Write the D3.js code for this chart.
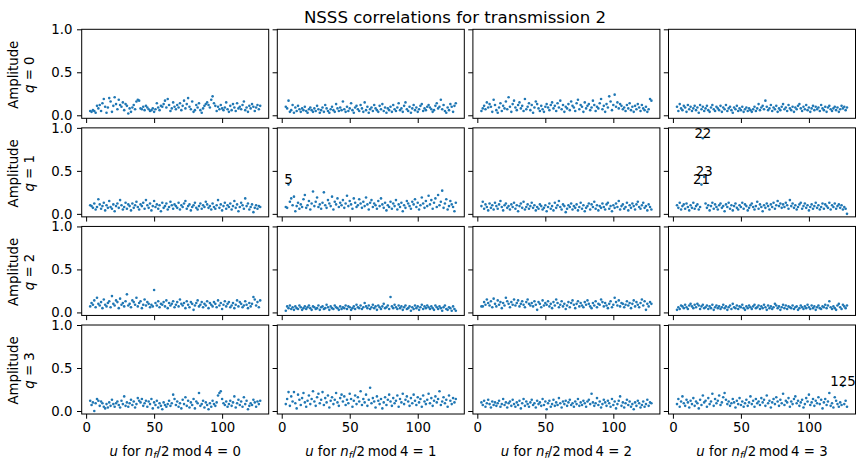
<!DOCTYPE html>
<html>
<head>
<meta charset="utf-8">
<script src="https://cdn.jsdelivr.net/npm/d3@7"></script>
<style>
  body { margin: 0; background: #fff; }
  svg text { font-family: "DejaVu Sans", sans-serif; fill: #000; }
</style>
</head>
<body>
<svg id="chart" width="866" height="471"></svg>
<script>
const title = 'NSSS correlations for transmission 2';
const qValues = [0, 1, 2, 3];
const modValues = [0, 1, 2, 3];
const uStart = 3;
const xTicks = [0, 50, 100];
const yTicks = [0, 0.5, 1];

// amplitude per u (u = 3 .. 128), one array per (q, n_f/2 mod 4)
const amp_q0_m0 = [
  0.05,0.04,0.06,0.05,0.03,0.11,0.08,0.12,0.05,0.14,0.19,0.10,0.03,0.09,0.20,0.16,0.04,0.11,0.21,0.13,0.07,
  0.18,0.12,0.10,0.15,0.06,0.13,0.11,0.02,0.08,0.04,0.09,0.12,0.07,0.16,0.18,0.17,0.08,0.07,0.10,0.06,0.11,
  0.09,0.07,0.05,0.06,0.08,0.04,0.07,0.14,0.09,0.06,0.11,0.10,0.13,0.17,0.09,0.19,0.12,0.05,0.08,0.15,0.10,
  0.07,0.12,0.09,0.14,0.06,0.11,0.17,0.08,0.13,0.20,0.10,0.07,0.16,0.04,0.06,0.12,0.09,0.14,0.06,0.03,0.08,
  0.11,0.13,0.15,0.12,0.09,0.18,0.22,0.14,0.11,0.05,0.10,0.07,0.12,0.08,0.06,0.09,0.15,0.07,0.04,0.11,0.06,
  0.13,0.09,0.05,0.14,0.08,0.10,0.07,0.12,0.16,0.06,0.09,0.04,0.11,0.08,0.13,0.10,0.05,0.09,0.12,0.07,0.11];
const amp_q0_m1 = [
  0.10,0.08,0.17,0.04,0.06,0.12,0.03,0.09,0.05,0.11,0.07,0.04,0.08,0.06,0.10,0.05,0.03,0.07,0.09,0.06,0.04,
  0.08,0.05,0.11,0.07,0.03,0.06,0.09,0.04,0.12,0.08,0.05,0.03,0.07,0.10,0.06,0.04,0.13,0.08,0.05,0.09,0.06,
  0.16,0.07,0.04,0.10,0.05,0.08,0.14,0.06,0.03,0.09,0.11,0.07,0.05,0.12,0.08,0.04,0.15,0.06,0.10,0.03,0.07,
  0.09,0.05,0.12,0.08,0.06,0.04,0.11,0.07,0.13,0.05,0.09,0.03,0.08,0.06,0.10,0.04,0.12,0.07,0.05,0.09,0.14,
  0.06,0.08,0.04,0.11,0.15,0.07,0.05,0.10,0.03,0.08,0.12,0.06,0.09,0.04,0.07,0.11,0.13,0.05,0.08,0.06,0.10,
  0.12,0.09,0.07,0.04,0.06,0.11,0.14,0.08,0.10,0.18,0.07,0.12,0.05,0.03,0.09,0.06,0.13,0.10,0.04,0.11,0.14];
const amp_q0_m2 = [
  0.05,0.08,0.11,0.07,0.15,0.09,0.13,0.10,0.04,0.18,0.12,0.06,0.03,0.09,0.14,0.05,0.11,0.08,0.16,0.07,0.21,
  0.10,0.04,0.13,0.17,0.09,0.06,0.12,0.15,0.08,0.11,0.05,0.19,0.07,0.10,0.14,0.06,0.12,0.03,0.09,0.16,0.13,
  0.08,0.05,0.11,0.07,0.04,0.10,0.13,0.09,0.06,0.12,0.15,0.08,0.11,0.05,0.14,0.09,0.17,0.07,0.12,0.04,0.10,
  0.08,0.13,0.06,0.16,0.11,0.09,0.05,0.14,0.18,0.07,0.12,0.10,0.04,0.15,0.08,0.11,0.13,0.06,0.09,0.17,0.12,
  0.05,0.10,0.08,0.14,0.19,0.07,0.11,0.04,0.13,0.09,0.22,0.16,0.06,0.12,0.24,0.10,0.15,0.08,0.13,0.11,0.07,
  0.09,0.05,0.12,0.08,0.14,0.06,0.10,0.04,0.11,0.07,0.13,0.09,0.05,0.12,0.08,0.06,0.10,0.04,0.07,0.19,0.17];
const amp_q0_m3 = [
  0.10,0.05,0.13,0.08,0.06,0.11,0.09,0.04,0.12,0.07,0.10,0.05,0.08,0.11,0.06,0.09,0.03,0.12,0.07,0.10,0.05,
  0.08,0.11,0.06,0.04,0.09,0.12,0.07,0.05,0.10,0.08,0.06,0.11,0.04,0.09,0.07,0.12,0.05,0.08,0.10,0.06,0.03,
  0.09,0.07,0.11,0.05,0.08,0.06,0.10,0.04,0.07,0.09,0.05,0.08,0.06,0.04,0.07,0.10,0.05,0.08,0.13,0.06,0.09,
  0.11,0.07,0.17,0.10,0.06,0.08,0.12,0.05,0.09,0.07,0.11,0.04,0.08,0.06,0.10,0.13,0.07,0.09,0.05,0.12,0.08,
  0.06,0.10,0.04,0.09,0.07,0.11,0.13,0.08,0.05,0.10,0.07,0.12,0.06,0.09,0.04,0.08,0.11,0.06,0.10,0.07,0.09,
  0.05,0.12,0.08,0.06,0.10,0.04,0.09,0.11,0.07,0.05,0.08,0.10,0.06,0.09,0.04,0.07,0.11,0.08,0.10,0.06,0.09];

const amp_q1_m0 = [
  0.10,0.09,0.07,0.12,0.05,0.08,0.17,0.11,0.06,0.09,0.13,0.04,0.10,0.07,0.15,0.08,0.06,0.11,0.03,0.09,0.12,
  0.07,0.16,0.10,0.05,0.08,0.13,0.06,0.11,0.09,0.04,0.12,0.07,0.10,0.14,0.08,0.05,0.11,0.09,0.13,0.06,0.16,
  0.10,0.07,0.12,0.04,0.09,0.15,0.08,0.11,0.06,0.10,0.03,0.13,0.07,0.09,0.12,0.05,0.08,0.14,0.10,0.06,0.11,
  0.09,0.07,0.13,0.05,0.10,0.08,0.12,0.15,0.06,0.09,0.11,0.04,0.08,0.10,0.13,0.07,0.05,0.09,0.12,0.06,0.10,
  0.08,0.14,0.11,0.07,0.09,0.05,0.12,0.08,0.06,0.10,0.16,0.07,0.11,0.04,0.09,0.13,0.06,0.10,0.08,0.12,0.05,
  0.09,0.15,0.07,0.11,0.03,0.08,0.13,0.10,0.06,0.18,0.09,0.12,0.05,0.08,0.11,0.02,0.07,0.10,0.06,0.09,0.08];
const amp_q1_m1 = [
  0.08,0.07,0.34,0.14,0.18,0.10,0.20,0.03,0.09,0.13,0.06,0.11,0.08,0.17,0.22,0.07,0.10,0.15,0.05,0.12,0.26,
  0.09,0.14,0.19,0.08,0.11,0.06,0.13,0.25,0.10,0.07,0.16,0.12,0.09,0.20,0.05,0.14,0.11,0.18,0.08,0.13,0.10,
  0.16,0.07,0.12,0.21,0.09,0.15,0.11,0.06,0.18,0.13,0.08,0.10,0.17,0.12,0.07,0.14,0.09,0.19,0.11,0.05,0.13,
  0.16,0.08,0.12,0.10,0.06,0.15,0.09,0.18,0.11,0.07,0.13,0.04,0.10,0.08,0.14,0.06,0.12,0.09,0.16,0.05,0.11,
  0.08,0.13,0.03,0.10,0.07,0.15,0.12,0.09,0.06,0.14,0.11,0.17,0.08,0.13,0.05,0.10,0.19,0.12,0.07,0.15,0.09,
  0.21,0.11,0.16,0.06,0.13,0.18,0.08,0.22,0.10,0.14,0.27,0.07,0.12,0.17,0.05,0.09,0.15,0.11,0.08,0.03,0.13];
const amp_q1_m2 = [
  0.09,0.14,0.06,0.11,0.08,0.04,0.12,0.07,0.10,0.05,0.13,0.09,0.06,0.11,0.15,0.08,0.04,0.10,0.12,0.07,0.09,
  0.05,0.11,0.08,0.13,0.06,0.10,0.03,0.09,0.12,0.07,0.14,0.05,0.08,0.11,0.06,0.09,0.13,0.07,0.10,0.04,0.08,
  0.06,0.11,0.09,0.05,0.07,0.10,0.03,0.08,0.12,0.06,0.09,0.04,0.13,0.07,0.10,0.15,0.08,0.05,0.11,0.09,0.02,
  0.06,0.10,0.08,0.12,0.05,0.09,0.07,0.11,0.04,0.08,0.13,0.06,0.10,0.03,0.07,0.09,0.12,0.05,0.11,0.08,0.14,
  0.06,0.10,0.04,0.09,0.07,0.12,0.08,0.05,0.11,0.13,0.06,0.09,0.03,0.10,0.07,0.12,0.08,0.15,0.05,0.09,0.11,
  0.06,0.08,0.13,0.04,0.10,0.07,0.12,0.09,0.05,0.11,0.14,0.08,0.06,0.10,0.13,0.07,0.09,0.04,0.11,0.08,0.05];
const amp_q1_m3 = [
  0.10,0.07,0.13,0.05,0.09,0.11,0.06,0.12,0.08,0.04,0.10,0.07,0.13,0.06,0.09,0.11,0.05,0.08,0.34,0.88,0.43,
  0.12,0.07,0.10,0.04,0.09,0.13,0.06,0.11,0.08,0.05,0.10,0.12,0.07,0.09,0.03,0.11,0.08,0.13,0.06,0.10,0.04,
  0.09,0.12,0.07,0.05,0.10,0.08,0.13,0.06,0.11,0.09,0.04,0.07,0.10,0.12,0.08,0.05,0.09,0.14,0.06,0.11,0.08,
  0.03,0.10,0.07,0.12,0.09,0.05,0.11,0.08,0.13,0.06,0.10,0.15,0.09,0.12,0.07,0.11,0.08,0.13,0.10,0.06,0.16,
  0.09,0.12,0.07,0.10,0.05,0.08,0.11,0.13,0.06,0.09,0.12,0.07,0.10,0.04,0.08,0.11,0.06,0.09,0.13,0.07,0.10,
  0.05,0.08,0.12,0.06,0.11,0.09,0.07,0.13,0.05,0.10,0.08,0.12,0.06,0.09,0.11,0.07,0.10,0.05,0.08,0.06,0.00];

const amp_q2_m0 = [
  0.07,0.11,0.09,0.14,0.06,0.17,0.10,0.08,0.12,0.05,0.15,0.09,0.07,0.11,0.13,0.06,0.19,0.10,0.08,0.14,0.12,
  0.05,0.16,0.09,0.11,0.07,0.13,0.21,0.08,0.10,0.06,0.14,0.12,0.09,0.17,0.07,0.11,0.13,0.05,0.09,0.15,0.08,
  0.12,0.10,0.06,0.09,0.07,0.26,0.11,0.08,0.13,0.06,0.10,0.09,0.12,0.07,0.14,0.05,0.11,0.08,0.10,0.13,0.06,
  0.09,0.12,0.07,0.15,0.10,0.08,0.11,0.05,0.13,0.09,0.06,0.12,0.10,0.03,0.08,0.11,0.14,0.07,0.09,0.12,0.06,
  0.10,0.08,0.13,0.05,0.11,0.09,0.07,0.12,0.10,0.06,0.14,0.08,0.11,0.04,0.09,0.13,0.07,0.10,0.12,0.06,0.08,
  0.11,0.05,0.09,0.14,0.07,0.12,0.10,0.06,0.08,0.13,0.09,0.05,0.11,0.07,0.10,0.18,0.15,0.08,0.12,0.06,0.14];
const amp_q2_m1 = [
  0.02,0.07,0.05,0.08,0.04,0.06,0.03,0.07,0.05,0.04,0.08,0.06,0.03,0.05,0.07,0.04,0.06,0.08,0.05,0.03,0.07,
  0.06,0.04,0.05,0.08,0.03,0.06,0.07,0.04,0.05,0.09,0.06,0.03,0.07,0.05,0.04,0.08,0.06,0.05,0.03,0.07,0.04,
  0.06,0.05,0.08,0.04,0.07,0.06,0.03,0.05,0.07,0.04,0.09,0.06,0.05,0.08,0.04,0.06,0.11,0.07,0.05,0.08,0.04,
  0.06,0.09,0.05,0.07,0.03,0.08,0.06,0.04,0.07,0.10,0.05,0.06,0.08,0.04,0.18,0.07,0.05,0.09,0.06,0.04,0.08,
  0.05,0.07,0.03,0.06,0.08,0.04,0.05,0.07,0.02,0.06,0.04,0.08,0.05,0.07,0.03,0.06,0.09,0.04,0.07,0.05,0.08,
  0.06,0.04,0.07,0.05,0.03,0.08,0.06,0.04,0.07,0.05,0.02,0.06,0.08,0.04,0.03,0.06,0.05,0.02,0.07,0.04,0.02];
const amp_q2_m2 = [
  0.07,0.07,0.12,0.09,0.15,0.11,0.08,0.13,0.06,0.16,0.10,0.07,0.14,0.09,0.12,0.05,0.11,0.08,0.17,0.13,0.10,
  0.06,0.12,0.09,0.15,0.08,0.11,0.14,0.07,0.10,0.13,0.09,0.06,0.12,0.15,0.10,0.08,0.11,0.07,0.13,0.09,0.03,
  0.12,0.10,0.06,0.14,0.08,0.11,0.09,0.13,0.07,0.10,0.05,0.12,0.08,0.15,0.11,0.06,0.09,0.13,0.07,0.10,0.04,
  0.08,0.12,0.06,0.11,0.14,0.09,0.05,0.10,0.13,0.07,0.11,0.08,0.06,0.12,0.09,0.14,0.10,0.07,0.05,0.11,0.08,
  0.13,0.06,0.10,0.09,0.15,0.12,0.07,0.11,0.08,0.05,0.10,0.13,0.06,0.09,0.17,0.12,0.08,0.14,0.07,0.11,0.10,
  0.06,0.09,0.13,0.08,0.11,0.05,0.10,0.14,0.07,0.12,0.09,0.06,0.11,0.15,0.08,0.13,0.03,0.10,0.07,0.12,0.10];
const amp_q2_m3 = [
  0.03,0.06,0.04,0.08,0.07,0.05,0.09,0.06,0.04,0.08,0.10,0.07,0.05,0.09,0.06,0.10,0.08,0.04,0.07,0.09,0.05,
  0.06,0.08,0.04,0.07,0.05,0.09,0.03,0.06,0.08,0.05,0.07,0.04,0.06,0.09,0.05,0.07,0.03,0.06,0.08,0.04,0.10,
  0.06,0.05,0.08,0.04,0.07,0.06,0.09,0.05,0.03,0.07,0.05,0.08,0.06,0.04,0.07,0.09,0.05,0.06,0.08,0.04,0.07,
  0.05,0.09,0.06,0.03,0.08,0.05,0.07,0.04,0.06,0.10,0.08,0.05,0.07,0.03,0.06,0.09,0.05,0.08,0.04,0.07,0.06,
  0.05,0.08,0.04,0.06,0.07,0.03,0.05,0.08,0.06,0.04,0.07,0.05,0.09,0.06,0.04,0.08,0.05,0.07,0.03,0.06,0.08,
  0.05,0.04,0.07,0.06,0.09,0.05,0.08,0.13,0.06,0.04,0.07,0.05,0.03,0.08,0.10,0.06,0.04,0.09,0.07,0.05,0.08];

const amp_q3_m0 = [
  0.12,0.07,0.10,0.00,0.09,0.14,0.12,0.06,0.11,0.09,0.05,0.03,0.08,0.04,0.10,0.06,0.13,0.08,0.05,0.09,0.11,
  0.07,0.04,0.12,0.08,0.17,0.06,0.10,0.05,0.09,0.13,0.07,0.11,0.04,0.08,0.15,0.12,0.10,0.14,0.06,0.09,0.12,
  0.05,0.11,0.08,0.14,0.03,0.10,0.07,0.12,0.04,0.09,0.06,0.02,0.10,0.07,0.05,0.08,0.12,0.06,0.09,0.19,0.14,
  0.07,0.11,0.05,0.09,0.03,0.13,0.08,0.16,0.06,0.12,0.04,0.10,0.07,0.14,0.03,0.11,0.09,0.21,0.06,0.08,0.12,
  0.04,0.10,0.07,0.02,0.09,0.05,0.12,0.08,0.06,0.10,0.18,0.21,0.23,0.14,0.09,0.07,0.11,0.05,0.08,0.12,0.06,
  0.10,0.17,0.04,0.09,0.13,0.07,0.11,0.05,0.16,0.08,0.12,0.02,0.06,0.09,0.07,0.13,0.10,0.05,0.11,0.08,0.12];
const amp_q3_m1 = [
  0.08,0.14,0.22,0.06,0.17,0.11,0.22,0.09,0.03,0.19,0.13,0.07,0.15,0.21,0.10,0.05,0.12,0.18,0.08,0.14,0.23,
  0.11,0.06,0.16,0.20,0.09,0.13,0.22,0.07,0.15,0.10,0.18,0.04,0.12,0.16,0.08,0.13,0.21,0.10,0.06,0.15,0.19,
  0.11,0.17,0.07,0.13,0.09,0.20,0.14,0.05,0.12,0.18,0.08,0.16,0.11,0.23,0.07,0.14,0.10,0.19,0.06,0.13,0.27,
  0.09,0.15,0.11,0.04,0.17,0.12,0.08,0.14,0.03,0.10,0.16,0.07,0.13,0.19,0.11,0.06,0.15,0.09,0.12,0.18,0.05,
  0.14,0.10,0.20,0.08,0.13,0.17,0.11,0.06,0.15,0.09,0.19,0.12,0.07,0.16,0.10,0.14,0.05,0.18,0.11,0.08,0.13,
  0.20,0.09,0.15,0.06,0.12,0.17,0.10,0.14,0.23,0.07,0.11,0.16,0.09,0.13,0.05,0.18,0.12,0.08,0.15,0.10,0.14];
const amp_q3_m2 = [
  0.10,0.07,0.12,0.05,0.09,0.13,0.08,0.04,0.11,0.07,0.10,0.06,0.09,0.12,0.05,0.08,0.14,0.07,0.10,0.04,0.09,
  0.11,0.06,0.13,0.08,0.05,0.10,0.07,0.12,0.03,0.09,0.14,0.06,0.11,0.08,0.05,0.10,0.13,0.07,0.09,0.04,0.12,
  0.08,0.10,0.06,0.14,0.07,0.11,0.02,0.09,0.12,0.05,0.08,0.13,0.06,0.10,0.07,0.15,0.09,0.04,0.11,0.08,0.12,
  0.06,0.10,0.13,0.07,0.09,0.05,0.11,0.08,0.14,0.06,0.10,0.07,0.12,0.09,0.05,0.11,0.13,0.08,0.20,0.10,0.06,
  0.09,0.15,0.07,0.11,0.04,0.08,0.13,0.10,0.06,0.12,0.09,0.05,0.14,0.07,0.11,0.03,0.08,0.12,0.17,0.06,0.10,
  0.04,0.09,0.13,0.07,0.11,0.05,0.08,0.02,0.10,0.06,0.12,0.09,0.04,0.07,0.11,0.05,0.08,0.13,0.06,0.10,0.09];
const amp_q3_m3 = [
  0.08,0.14,0.05,0.11,0.17,0.09,0.06,0.13,0.10,0.04,0.12,0.08,0.15,0.06,0.11,0.09,0.03,0.13,0.07,0.18,0.10,
  0.12,0.05,0.15,0.08,0.11,0.20,0.06,0.14,0.09,0.12,0.18,0.07,0.10,0.16,0.21,0.13,0.08,0.11,0.06,0.09,0.14,
  0.10,0.04,0.12,0.08,0.15,0.07,0.11,0.05,0.09,0.13,0.06,0.10,0.17,0.08,0.12,0.05,0.14,0.09,0.11,0.07,0.15,
  0.10,0.13,0.06,0.18,0.09,0.12,0.04,0.10,0.14,0.08,0.16,0.11,0.06,0.13,0.09,0.20,0.07,0.12,0.10,0.15,0.05,
  0.11,0.08,0.14,0.17,0.09,0.12,0.06,0.10,0.13,0.04,0.08,0.15,0.11,0.19,0.07,0.10,0.14,0.06,0.12,0.09,0.16,
  0.08,0.13,0.03,0.10,0.14,0.07,0.11,0.21,0.06,0.09,0.04,0.16,0.12,0.08,0.05,0.10,0.07,0.29,0.08,0.12,0.05];

const amplitudes = [
  [amp_q0_m0, amp_q0_m1, amp_q0_m2, amp_q0_m3],
  [amp_q1_m0, amp_q1_m1, amp_q1_m2, amp_q1_m3],
  [amp_q2_m0, amp_q2_m1, amp_q2_m2, amp_q2_m3],
  [amp_q3_m0, amp_q3_m1, amp_q3_m2, amp_q3_m3]
];

// labelled outliers: panel row (q), panel column (mod) and u
const labelRow = [1, 1, 1, 1, 3];
const labelCol = [1, 3, 3, 3, 3];
const labelU = [5, 22, 23, 21, 125];

const left0 = 81.7;
const top0 = 29.3;
const panelW = 187;
const panelH = 89;
const colStep = 195.6;
const rowStep = 98.57;
const color = '#1f77b4';
const fontSize = 13.3;

const svg = d3.select('#chart');

const x = d3.scaleLinear().domain([-3.25, 134.25]).range([0, panelW]);
const y = d3.scaleLinear().domain([-0.035, 1.0]).range([panelH, 0]);

svg.append('text')
  .attr('x', 455)
  .attr('y', 22.7)
  .attr('text-anchor', 'middle')
  .style('font-size', '16.6px')
  .text(title);

qValues.forEach(function(q, row) {

  modValues.forEach(function(m, col) {

    const g = svg.append('g')
      .attr('transform', 'translate(' + (left0 + col * colStep) + ',' + (top0 + row * rowStep) + ')');

    const xAxis = d3.axisBottom(x)
      .tickValues(xTicks)
      .tickSize(4.7)
      .tickSizeOuter(0)
      .tickPadding(3.5)
      .tickFormat(row === 3 ? d3.format('d') : '');

    const yAxis = d3.axisLeft(y)
      .tickValues(yTicks)
      .tickSize(4.7)
      .tickSizeOuter(0)
      .tickPadding(4.5)
      .tickFormat(col === 0 ? d3.format('.1f') : '');

    g.append('g')
      .attr('transform', 'translate(0,' + panelH + ')')
      .call(xAxis);

    g.append('g')
      .call(yAxis);

    g.selectAll('.domain').remove();
    g.selectAll('.tick line').attr('stroke', '#000').attr('stroke-width', 1);
    g.selectAll('.tick text')
      .style('font-family', '"DejaVu Sans", sans-serif')
      .style('font-size', fontSize + 'px')
      .attr('fill', '#000');

    const values = amplitudes[row][col];

    g.selectAll('circle')
      .data(values)
      .enter()
      .append('circle')
      .attr('cx', function(d, i) { return x(uStart + i); })
      .attr('cy', function(d) { return y(d); })
      .attr('r', 1.3)
      .attr('fill', color);

    labelU.forEach(function(u, k) {
      if (labelRow[k] !== row || labelCol[k] !== col) return;
      g.append('text')
        .attr('x', x(u))
        .attr('y', y(values[u - uStart]) - 0.5)
        .attr('text-anchor', 'middle')
        .style('font-size', fontSize + 'px')
        .text(u);
    });

    g.append('rect')
      .attr('width', panelW)
      .attr('height', panelH)
      .attr('fill', 'none')
      .attr('stroke', '#000')
      .attr('stroke-width', 1);

    // y label on first column
    if (col === 0) {
      const cy = panelH / 2 + 1;
      g.append('text')
        .attr('transform', 'translate(' + (-left0 + 18.5) + ',' + cy + ') rotate(-90)')
        .attr('text-anchor', 'middle')
        .style('font-size', fontSize + 'px')
        .text('Amplitude');
      const ql = g.append('text')
        .attr('transform', 'translate(' + (-left0 + 34.5) + ',' + cy + ') rotate(-90)')
        .attr('text-anchor', 'middle')
        .style('font-size', fontSize + 'px');
      ql.append('tspan').style('font-style', 'italic').text('q');
      ql.append('tspan').text(' = ' + q);
    }

    // x label on bottom row
    if (row === 3) {
      const xl = g.append('text')
        .attr('x', panelW / 2)
        .attr('y', 456 - (top0 + row * rowStep))
        .attr('text-anchor', 'middle')
        .style('font-size', fontSize + 'px');
      xl.append('tspan').style('font-style', 'italic').text('u');
      xl.append('tspan').text(' for ');
      xl.append('tspan').style('font-style', 'italic').text('n');
      xl.append('tspan').style('font-style', 'italic').style('font-size', '9.5px').attr('dy', 2.5).text('f');
      xl.append('tspan').attr('dy', -2.5).text('/2\u2009mod\u20094 = ' + m);
    }
  });
});
</script>
</body>
</html>
